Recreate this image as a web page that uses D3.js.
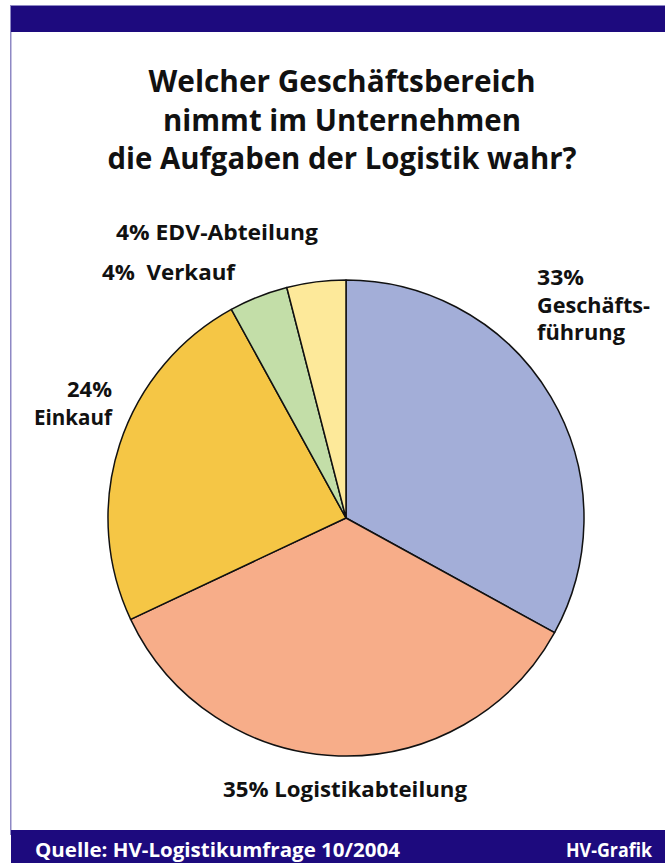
<!DOCTYPE html>
<html><head><meta charset="utf-8">
<script src="https://cdn.jsdelivr.net/npm/d3@7"></script>
<style>html,body{margin:0;padding:0;background:#fff;}svg{display:block;}</style>
</head><body>
<script>
const categories = ["Geschäftsführung", "Logistikabteilung", "Einkauf", "Verkauf", "EDV-Abteilung"];
const values = [33, 35, 24, 4, 4];
const colors = ["#a3aed8", "#f7ad89", "#f5c645", "#c3dea8", "#fde99a"];
const titleLines = ["Welcher Geschäftsbereich", "nimmt im Unternehmen", "die Aufgaben der Logistik wahr?"];
const titleWidths = [387, 358, 469];
const labels = [
  {lines:["33%","Geschäfts-","führung"], widths:[47,113,88], x:537, y:285, anchor:"start"},
  {lines:["35% Logistikabteilung"], widths:[244], x:345, y:797, anchor:"middle"},
  {lines:["24%","Einkauf"], widths:[45,78], x:112, y:397, anchor:"end"},
  {lines:["4%\u00a0 Verkauf"], widths:[133], x:102, y:280, anchor:"start"},
  {lines:["4% EDV-Abteilung"], widths:[202], x:116, y:240, anchor:"start"}
];
const W=665,H=863, navy="#1d0a7e", font="'Open Sans', sans-serif";
const svg=d3.select("body").append("svg").attr("width",W).attr("height",H);
svg.append("rect").attr("x",0).attr("y",0).attr("width",W).attr("height",H).attr("fill","#fff");
// frame
svg.append("rect").attr("x",10).attr("y",5).attr("width",W-10).attr("height",1.5).attr("fill","#8e88c4");
svg.append("rect").attr("x",10).attr("y",5).attr("width",1.5).attr("height",830).attr("fill","#8e88c4");
svg.append("rect").attr("x",11).attr("y",6).attr("width",W-11).attr("height",26).attr("fill",navy);
svg.append("rect").attr("x",11).attr("y",830).attr("width",W-11).attr("height",H-830).attr("fill",navy);
// title
svg.append("g").selectAll("text").data(titleLines).join("text")
  .attr("x",342).attr("y",(d,i)=>92+i*38.5).attr("text-anchor","middle")
  .attr("font-family",font).attr("font-weight",700).attr("font-size",29.5).attr("fill","#111")
  .attr("textLength",(d,i)=>titleWidths[i]).attr("lengthAdjust","spacingAndGlyphs")
  .text(d=>d);
// pie
const cx=346, cy=518, r=238;
const pie=d3.pie().sort(null).value(d=>d)(values);
const arc=d3.arc().innerRadius(0).outerRadius(r);
svg.append("g").attr("transform",`translate(${cx},${cy})`).selectAll("path").data(pie).join("path")
  .attr("d",arc).attr("fill",(d,i)=>colors[i]).attr("stroke","#111").attr("stroke-width",1.5).attr("stroke-linejoin","round");
// labels
const lg=svg.append("g");
labels.forEach(l=>{
  l.lines.forEach((s,i)=>lg.append("text").attr("x",l.x).attr("y",l.y+i*27.5).attr("text-anchor",l.anchor)
    .attr("font-family",font).attr("font-weight",700).attr("font-size",21).attr("fill","#111")
    .attr("textLength",l.widths[i]).attr("lengthAdjust","spacingAndGlyphs").text(s));
});
// footer
svg.append("text").attr("x",35).attr("y",857).attr("font-family",font).attr("font-weight",700)
  .attr("font-size",19).attr("fill","#fff").attr("textLength",365).attr("lengthAdjust","spacingAndGlyphs")
  .text("Quelle: HV-Logistikumfrage 10/2004");
svg.append("text").attr("x",652).attr("y",857).attr("text-anchor","end").attr("font-family",font).attr("font-weight",700)
  .attr("font-size",19).attr("fill","#fff").attr("textLength",86).attr("lengthAdjust","spacingAndGlyphs").text("HV-Grafik");
</script>
</body></html>
